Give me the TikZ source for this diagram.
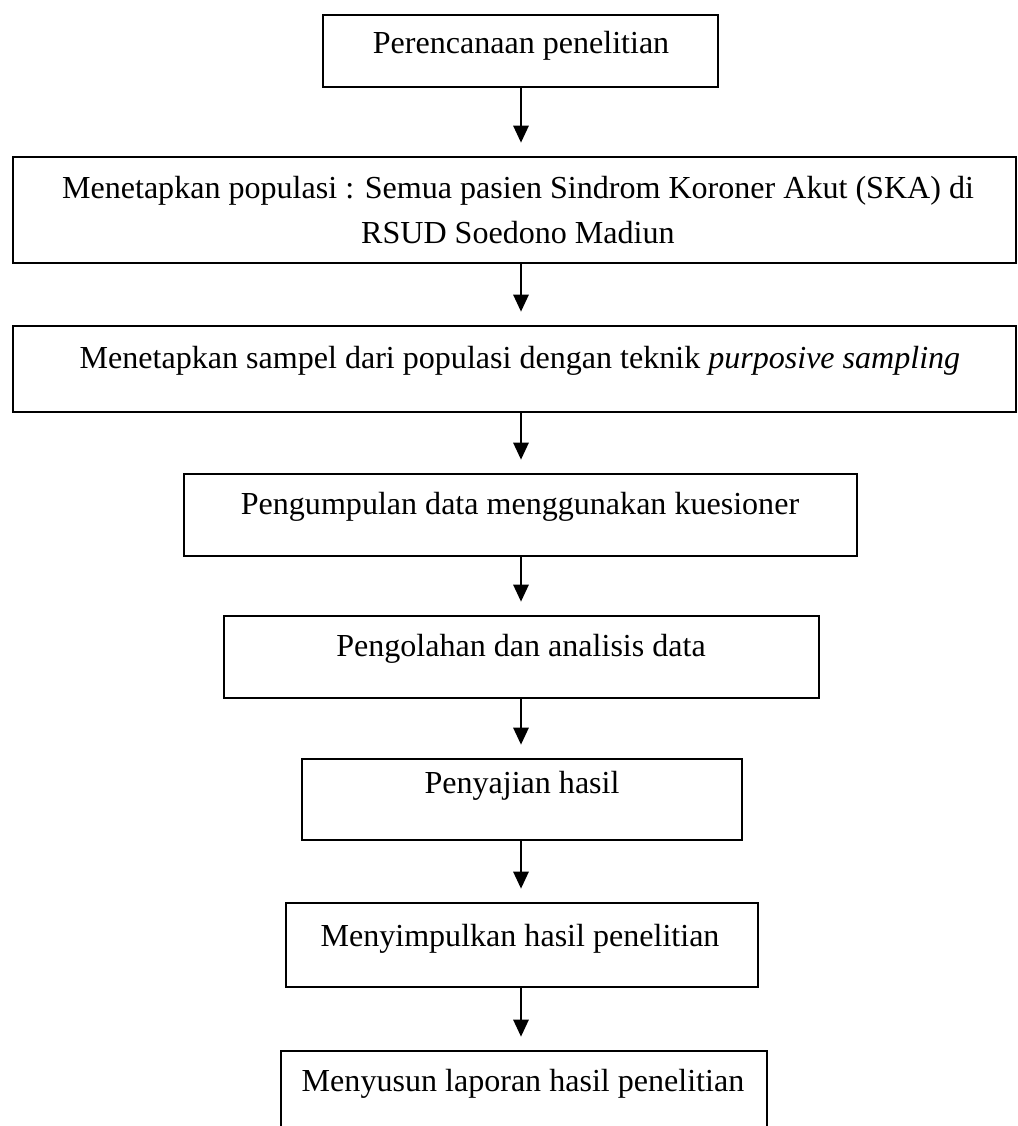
\documentclass[tikz,border=0pt]{standalone}
\usepackage{fontspec}
\setmainfont{Liberation Serif}
\usetikzlibrary{arrows.meta,positioning,fit}
\tikzset{stepbox/.style={draw=black,line width=2.1pt,inner sep=0pt},
steptext/.style={font=\fontsize{22.8}{32}\selectfont,align=center,inner sep=0pt,anchor=north},
arr/.style={-{Triangle[length=4.3mm,width=3.8mm]},draw=black,line width=1.9pt,shorten >=3.2mm}}
\begin{document}
\begin{tikzpicture}[x=0.025cm,y=-0.025cm]
\clip (0,0) rectangle (1018,1126);
\fill[white] (0,0) rectangle (1018,1126);
\coordinate (ax) at (521,0);
% boxes
\node[stepbox,fit={(323,15)(718,87)}] (b1) {};
\node[stepbox,fit={(13,157)(1016,263)}] (b2) {};
\node[stepbox,fit={(13,326)(1016,412)}] (b3) {};
\node[stepbox,fit={(184,474)(857,556)}] (b4) {};
\node[stepbox,fit={(224,616)(819,698)}] (b5) {};
\node[stepbox,fit={(302,759)(742,840)}] (b6) {};
\node[stepbox,fit={(286,903)(758,987)}] (b7) {};
\node[stepbox,fit={(281,1051)(767,1160)}] (b8) {};
% texts
\node[steptext] (t1) at (521,31) {Perencanaan penelitian};
\node[steptext] (t2) at (518,176) {Menetapkan populasi : Semua pasien Sindrom Koroner Akut (SKA) di\\RSUD Soedono Madiun};
\node[steptext] (t3) at (520,346) {Menetapkan sampel dari populasi dengan teknik \textit{purposive sampling}};
\node[steptext] (t4) at (520,492) {Pengumpulan data menggunakan kuesioner};
\node[steptext] (t5) at (521,634) {Pengolahan dan analisis data};
\node[steptext] (t6) at (522,771) {Penyajian hasil};
\node[steptext] (t7) at (520,924) {Menyimpulkan hasil penelitian};
\node[steptext] (t8) at (523,1069) {Menyusun laporan hasil penelitian};
% arrows
\foreach \a/\b in {b1/b2,b2/b3,b3/b4,b4/b5,b5/b6,b6/b7,b7/b8}{
  \draw[arr] (\a.south -| ax) -- (\b.north -| ax);
}
\end{tikzpicture}
\end{document}
